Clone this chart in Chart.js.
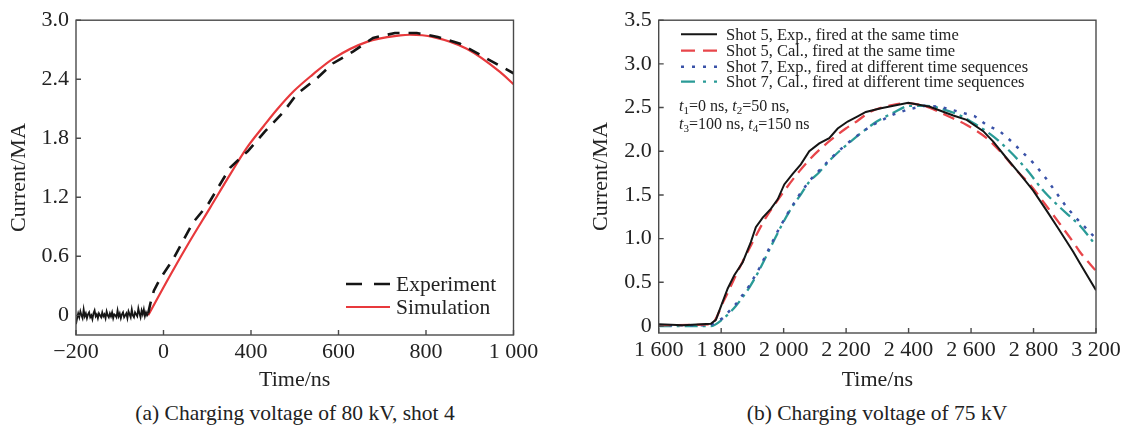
<!DOCTYPE html>
<html>
<head>
<meta charset="utf-8">
<title>Current waveforms</title>
<script src="https://cdn.jsdelivr.net/npm/chart.js@4/dist/chart.umd.min.js"></script>
<style>
  body { margin: 0; background: #fff; }
  #wrap { position: relative; width: 1126px; height: 428px; font-family: 'Liberation Serif', serif; color: #222; }
  canvas { position: absolute; top: 0; }
  .cap { position: absolute; top: 401px; font-size: 21.5px; line-height: 24px; text-align: center; white-space: nowrap; }
</style>
</head>
<body>
<div id="wrap">
  <canvas id="chartA" width="560" height="393" style="left:0"></canvas>
  <canvas id="chartB" width="546" height="393" style="left:580px"></canvas>
  <div class="cap" style="left:95px;width:400px">(a) Charging voltage of 80 kV, shot 4</div>
  <div class="cap" style="left:677px;width:400px">(b) Charging voltage of 75 kV</div>
</div>
<script>
// ---- panel (a): shot 4, 80 kV ----
const xTickValsA = [-200, 0, 200, 400, 600, 800];
const xTickLabelsA = ['\u2212200', '0', '400', '600', '800', '1 000'];
const yTickValsA = [0, 0.6, 1.2, 1.8, 2.4, 3.0];
const yTickLabelsA = ['0', '0.6', '1.2', '1.8', '2.4', '3.0'];

// pre-trigger noise of the probe, then the measured rise
const timeExpA = [-200, -197.5, -195, -192.5, -190, -187.5, -185, -182.5, -180, -177.5, -175, -172.5, -170, -167.5,
  -165, -162.5, -160, -157.5, -155, -152.5, -150, -147.5, -145, -142.5, -140, -137.5, -135, -132.5, -130, -127.5,
  -125, -122.5, -120, -117.5, -115, -112.5, -110, -107.5, -105, -102.5, -100, -97.5, -95, -92.5, -90, -87.5,
  -85, -82.5, -80, -77.5, -75, -72.5, -70, -67.5, -65, -62.5, -60, -57.5, -55, -52.5, -50, -47.5, -45, -42.5,
  -40, -37.5, -35,
  -30, -22, -8, 22, 45, 67, 102, 129, 152, 193, 232, 273, 305, 351, 387, 433, 479, 529, 579, 627, 678, 739, 800];
const currExpA = [-0.09, -0.03, 0.02, -0.02, 0.04, 0.0, -0.03, 0.06, -0.01, 0.02,
  -0.03, 0.01, 0.03, -0.02, 0.0, -0.04, 0.02, 0.05, -0.01, 0.01,
  -0.03, 0.02, 0.0, -0.02, 0.03, -0.01, 0.01, -0.03, 0.04, 0.0,
  -0.02, 0.02, -0.01, 0.03, -0.03, 0.01, 0.0, -0.02, 0.05, -0.01,
  0.02, -0.03, 0.01, 0.03, -0.02, 0.0, 0.02, -0.03, 0.04, 0.01,
  -0.02, 0.06, 0.0, -0.02, 0.03, 0.01, -0.01, 0.07, 0.02, -0.02,
  0.05, 0.01, 0.06, -0.01, 0.03, 0.0, 0.02,
  0.12, 0.25, 0.37, 0.57, 0.76, 0.94, 1.13, 1.33, 1.50, 1.67, 1.87, 2.06, 2.25, 2.41, 2.56, 2.68, 2.82, 2.87, 2.87, 2.83, 2.76, 2.61, 2.46];
const noiseEndA = -35;

const timeSimA = [-35, 17, 61, 106, 152, 190, 230, 259, 298, 339, 388, 465, 541, 563, 617, 693, 769, 800];
const currSimA = [0, 0.42, 0.76, 1.09, 1.43, 1.70, 1.93, 2.09, 2.28, 2.44, 2.61, 2.78, 2.845, 2.852, 2.828, 2.71, 2.475, 2.35];

// ---- panel (b): 75 kV ----
const xTickValsB = [1600, 1800, 2000, 2200, 2400, 2600, 2800, 3000];
const xTickLabelsB = ['1 600', '1 800', '2 000', '2 200', '2 400', '2 600', '2 800', '3 200'];
const yTickValsB = [0, 0.5, 1.0, 1.5, 2.0, 2.5, 3.0, 3.5];
const yTickLabelsB = ['0', '0.5', '1.0', '1.5', '2.0', '2.5', '3.0', '3.5'];

const timeExp5 = [1600, 1677, 1767, 1783, 1805, 1821, 1842, 1869, 1895, 1911, 1933, 1959, 1981, 2002, 2029, 2055, 2082, 2114, 2146,
  2173, 2205, 2237, 2263, 2308, 2399, 2468, 2543, 2586, 2639, 2671, 2714, 2756, 2799, 2842, 2884, 2927, 2948, 3000];
const currExp5 = [0.02, 0.01, 0.025, 0.07, 0.28, 0.43, 0.58, 0.73, 0.96, 1.13, 1.24, 1.34, 1.45, 1.62, 1.74, 1.85, 2.0, 2.09, 2.15,
  2.26, 2.34, 2.40, 2.45, 2.49, 2.555, 2.51, 2.41, 2.36, 2.23, 2.11, 1.92, 1.74, 1.55, 1.32, 1.09, 0.85, 0.72, 0.41];

const timeCal5 = [1600, 1767, 1810, 1847, 1879, 1911, 1943, 1975, 2013, 2050, 2087, 2125, 2162, 2199, 2237, 2276, 2351, 2394,
  2458, 2522, 2586, 2650, 2703, 2746, 2788, 2836, 2884, 2927, 2948, 3000];
const currCal5 = [0.01, 0.02, 0.30, 0.58, 0.81, 1.03, 1.24, 1.41, 1.60, 1.77, 1.92, 2.05, 2.16, 2.26, 2.35, 2.45, 2.53, 2.55,
  2.51, 2.41, 2.30, 2.15, 1.96, 1.78, 1.62, 1.40, 1.17, 0.96, 0.85, 0.63];

const timeExp7 = [1600, 1767, 1805, 1847, 1890, 1922, 1954, 1986, 2018, 2050, 2082, 2114, 2146, 2178, 2221, 2263, 2300, 2350,
  2400, 2450, 2500, 2564, 2612, 2650, 2692, 2730, 2767, 2804, 2842, 2906, 2938, 3000];
const currExp7 = [0.01, 0.01, 0.09, 0.25, 0.46, 0.66, 0.89, 1.12, 1.32, 1.50, 1.66, 1.78, 1.90, 2.01, 2.14, 2.25, 2.33, 2.42,
  2.48, 2.52, 2.51, 2.45, 2.40, 2.30, 2.23, 2.11, 1.98, 1.85, 1.68, 1.36, 1.23, 1.00];

const timeCal7 = [1600, 1767, 1805, 1847, 1890, 1922, 1954, 1986, 2018, 2050, 2082, 2114, 2146, 2178, 2221, 2263, 2298, 2351,
  2404, 2458, 2511, 2565, 2618, 2671, 2724, 2778, 2831, 2884, 2927, 2948, 3000];
const currCal7 = [0.0, 0.0, 0.08, 0.23, 0.44, 0.64, 0.87, 1.10, 1.31, 1.48, 1.65, 1.76, 1.89, 2.00, 2.13, 2.25, 2.34, 2.44,
  2.52, 2.52, 2.48, 2.41, 2.30, 2.17, 2.00, 1.79, 1.55, 1.36, 1.22, 1.15, 0.92];

const SERIF = "'Liberation Serif', 'Times New Roman', serif";
const INK = '#222';

const pts = (xs, ys) => xs.map((x, i) => ({ x: x, y: ys[i] }));

// box round the plot area + short inward ticks
const framePlugin = {
  id: 'frame',
  afterDatasetsDraw(chart) {
    const { ctx, chartArea: a, scales: { x, y } } = chart;
    ctx.save();
    ctx.strokeStyle = '#4a4a4a';
    ctx.lineWidth = 1.4;
    ctx.beginPath();
    x.ticks.forEach(t => {
      const px = x.getPixelForValue(t.value);
      ctx.moveTo(px, a.bottom); ctx.lineTo(px, a.bottom - 5);
    });
    y.ticks.forEach(t => {
      const py = y.getPixelForValue(t.value);
      ctx.moveTo(a.left, py); ctx.lineTo(a.left + 5, py);
    });
    ctx.stroke();
    ctx.strokeRect(a.left, a.top, a.right - a.left, a.bottom - a.top);
    ctx.restore();
  }
};

// legend drawn from the datasets' own styles
const keyPlugin = {
  id: 'key',
  afterDraw(chart, args, o) {
    const ctx = chart.ctx;
    ctx.save();
    ctx.font = o.size + 'px ' + SERIF;
    ctx.textBaseline = 'middle';
    ctx.fillStyle = INK;
    chart.data.datasets.forEach((ds, i) => {
      const y = o.rows[i];
      ctx.strokeStyle = ds.borderColor;
      ctx.lineWidth = ds.borderWidth;
      ctx.setLineDash(o.dashes[i] || ds.borderDash || []);
      ctx.beginPath();
      ctx.moveTo(o.x0, y); ctx.lineTo(o.x1, y);
      ctx.stroke();
      ctx.fillText(ds.label, o.tx, y + 1);
    });
    ctx.restore();
  }
};

// t1=0 ns ... note with italic t and subscripts
const notePlugin = {
  id: 'note',
  afterDraw(chart, args, o) {
    if (!o.lines) return;
    const ctx = chart.ctx;
    ctx.save();
    ctx.fillStyle = INK;
    ctx.textBaseline = 'middle';
    o.lines.forEach((line, li) => {
      let x = o.x;
      const y = o.rows[li];
      line.forEach(([txt, kind]) => {
        if (kind === 's') {
          ctx.font = '11px ' + SERIF;
          ctx.fillText(txt, x, y + 4);
        } else {
          ctx.font = (kind === 'i' ? 'italic ' : '') + o.size + 'px ' + SERIF;
          ctx.fillText(txt, x, y);
        }
        x += ctx.measureText(txt).width;
      });
    });
    ctx.restore();
  }
};

function axes(c) {
  return {
    x: {
      type: 'linear', min: c.xMin, max: c.xMax,
      afterBuildTicks: s => { s.ticks = c.xVals.map(v => ({ value: v })); },
      afterFit: s => { s.height = c.xH; },
      ticks: { callback: (v, i) => c.xLabels[i], font: { family: SERIF, size: 22 }, color: INK, padding: 4, maxRotation: 0, autoSkip: false },
      grid: { display: false, drawTicks: false },
      border: { display: false },
      title: { display: true, text: 'Time/ns', font: { family: SERIF, size: 22 }, color: INK, padding: 0 }
    },
    y: {
      type: 'linear', min: c.yMin, max: c.yMax,
      afterBuildTicks: s => { s.ticks = c.yVals.map(v => ({ value: v })); },
      afterFit: s => { s.width = c.yW; },
      ticks: { callback: (v, i) => c.yLabels[i], font: { family: SERIF, size: 22 }, color: INK, padding: 7, autoSkip: false },
      grid: { display: false, drawTicks: false },
      border: { display: false },
      title: { display: true, text: 'Current/MA', font: { family: SERIF, size: 22 }, color: INK, padding: 0 }
    }
  };
}

new Chart(document.getElementById('chartA'), {
  type: 'line',
  data: {
    datasets: [
      {
        label: 'Experiment', data: pts(timeExpA, currExpA),
        borderColor: '#151515', borderWidth: 2.6, borderDash: [12, 9], pointRadius: 0, tension: 0,
        segment: {
          borderDash: c => c.p1.parsed.x <= noiseEndA ? [] : [12, 9],
          borderWidth: c => c.p1.parsed.x <= noiseEndA ? 1.8 : 2.6
        }
      },
      {
        label: 'Simulation', data: pts(timeSimA, currSimA),
        borderColor: '#e8393c', borderWidth: 2.2, pointRadius: 0, cubicInterpolationMode: 'monotone'
      }
    ]
  },
  options: {
    responsive: false, animation: false,
    layout: { padding: { left: 6, top: 18, right: 46.5, bottom: 0 } },
    plugins: {
      legend: { display: false }, tooltip: { enabled: false },
      key: { x0: 346, x1: 390, tx: 396, rows: [284, 307], size: 21.5, dashes: [[16, 12], []] }
    },
    scales: axes({ xMin: -200, xMax: 800, xVals: xTickValsA, xLabels: xTickLabelsA, xH: 58,
                   yMin: -0.2, yMax: 3.0, yVals: yTickValsA, yLabels: yTickLabelsA, yW: 70 })
  },
  plugins: [framePlugin, keyPlugin]
});

new Chart(document.getElementById('chartB'), {
  type: 'line',
  data: {
    datasets: [
      { label: 'Shot 5, Exp., fired at the same time', data: pts(timeExp5, currExp5),
        borderColor: '#151515', borderWidth: 2, pointRadius: 0, tension: 0 },
      { label: 'Shot 5, Cal., fired at the same time', data: pts(timeCal5, currCal5),
        borderColor: '#e8464b', borderWidth: 2.3, borderDash: [12, 7], pointRadius: 0, cubicInterpolationMode: 'monotone' },
      { label: 'Shot 7, Exp., fired at different time sequences', data: pts(timeExp7, currExp7),
        borderColor: '#3a52a8', borderWidth: 2.5, borderDash: [3, 7.5], pointRadius: 0, tension: 0 },
      { label: 'Shot 7, Cal., fired at different time sequences', data: pts(timeCal7, currCal7),
        borderColor: '#2a9b97', borderWidth: 2.3, borderDash: [13, 5, 3, 5], pointRadius: 0, cubicInterpolationMode: 'monotone' }
    ]
  },
  options: {
    responsive: false, animation: false,
    layout: { padding: { left: 8, top: 17, right: 30, bottom: 0 } },
    plugins: {
      legend: { display: false }, tooltip: { enabled: false },
      key: { x0: 101, x1: 137, tx: 146, rows: [34.3, 50.7, 66.7, 81.7], size: 16.5, dashes: [[], [14, 8], [3, 8], [14, 8, 3, 8]] },
      note: {
        x: 99, rows: [106.7, 125], size: 16,
        lines: [
          [['t', 'i'], ['1', 's'], ['=0 ns, ', ''], ['t', 'i'], ['2', 's'], ['=50 ns,', '']],
          [['t', 'i'], ['3', 's'], ['=100 ns, ', ''], ['t', 'i'], ['4', 's'], ['=150 ns', '']]
        ]
      }
    },
    scales: axes({ xMin: 1600, xMax: 3000, xVals: xTickValsB, xLabels: xTickLabelsB, xH: 60,
                   yMin: -0.08, yMax: 3.5, yVals: yTickValsB, yLabels: yTickLabelsB, yW: 70.7 })
  },
  plugins: [framePlugin, keyPlugin, notePlugin]
});
</script>
</body>
</html>
